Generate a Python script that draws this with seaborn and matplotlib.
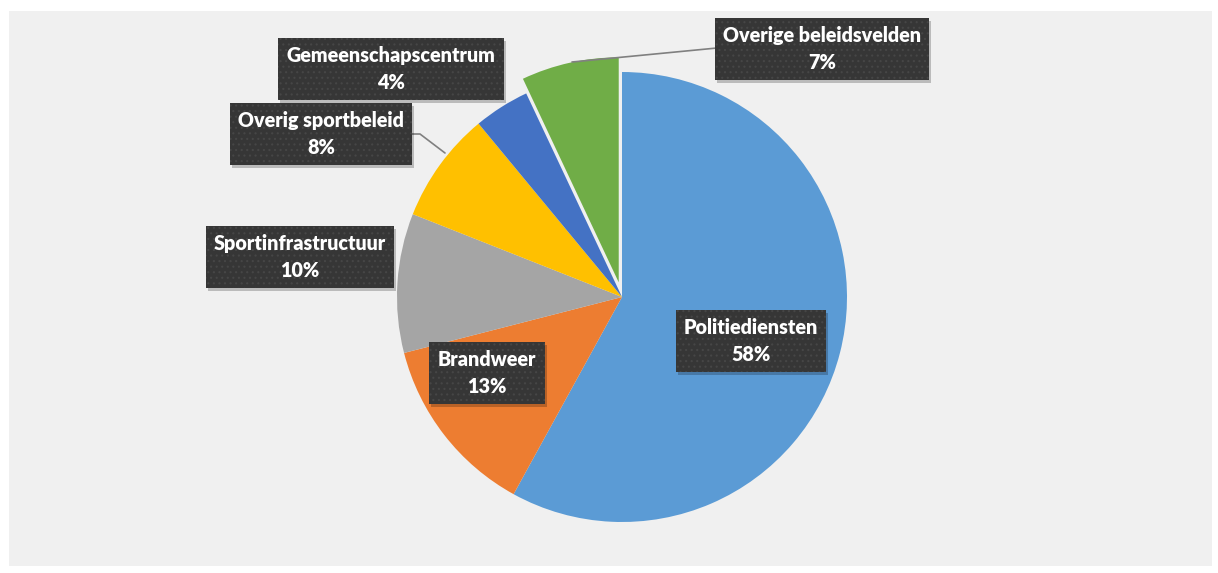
import matplotlib.pyplot as plt
from matplotlib.patches import Rectangle
import seaborn as sns

# Verdeling uitgaven per beleidsveld (%)
categorieen = ["Politiediensten", "Brandweer", "Sportinfrastructuur",
               "Overig sportbeleid", "Gemeenschapscentrum", "Overige beleidsvelden"]
aandeel = [58, 13, 10, 8, 4, 7]

kleuren = sns.color_palette(["#5B9BD5", "#ED7D31", "#A5A5A5",
                             "#FFC000", "#4472C4", "#70AD47"])

sns.set_style("white")
plt.rcParams["font.family"] = ["Lato", "DejaVu Sans"]
plt.rcParams["hatch.linewidth"] = 0.8

W, H = 1218, 573
fig = plt.figure(figsize=(W / 100, H / 100), dpi=100)
ax = fig.add_axes([0, 0, 1, 1])

def fy(y):
    # pixel y (van boven) naar data y
    return H - y

# grijze achtergrond van het grafiekvlak
ax.add_patch(Rectangle((9, fy(566)), 1203, 555, facecolor="#f0f0f0",
                       edgecolor="none", zorder=0))

# laatste schijf (groen) iets naar buiten
explode = [0, 0, 0, 0, 0, 15]
ax.pie(aandeel, colors=kleuren, startangle=90, counterclock=False,
       center=(622, fy(297)), radius=225, explode=explode,
       wedgeprops=dict(linewidth=0), frame=True)

ax.set_xlim(0, W)
ax.set_ylim(0, H)
ax.set_aspect("equal")
ax.axis("off")

# posities labels (pixels, midden van het kader)
label_pos = [(751, 341), (487, 373), (300, 257), (321, 134), (391, 69), (822, 49)]

# verbindingslijnen
leaders = {
    3: [(411, 134), (420, 134), (445, 153)],
    5: [(717, 48), (572, 62)],
}
for i, pts in leaders.items():
    xs = [p[0] for p in pts]
    ys = [fy(p[1]) for p in pts]
    ax.plot(xs, ys, color="#808080", lw=1.2, zorder=3)

teksten = []
for (x, y), naam, pct in zip(label_pos, categorieen, aandeel):
    t = ax.text(x, fy(y), f"{naam}\n{pct}%", ha="center", va="center",
                color="white", fontweight="heavy", fontsize=14.2,
                linespacing=1.45, zorder=5,
                bbox=dict(boxstyle="square,pad=0.42", facecolor="#363636",
                          edgecolor="#464646", linewidth=0, hatch="..."))
    teksten.append(t)

# zachte schaduw onder de kaders
fig.canvas.draw()
renderer = fig.canvas.get_renderer()
inv = ax.transData.inverted()
for t in teksten:
    ext = t.get_bbox_patch().get_window_extent(renderer)
    (x0, y0), (x1, y1) = inv.transform([(ext.x0, ext.y0), (ext.x1, ext.y1)])
    ax.add_patch(Rectangle((x0 + 2, y0 - 3), x1 - x0, y1 - y0,
                           facecolor="black", alpha=0.22, linewidth=0, zorder=4))

fig.savefig("out.png", dpi=100, facecolor="white")
